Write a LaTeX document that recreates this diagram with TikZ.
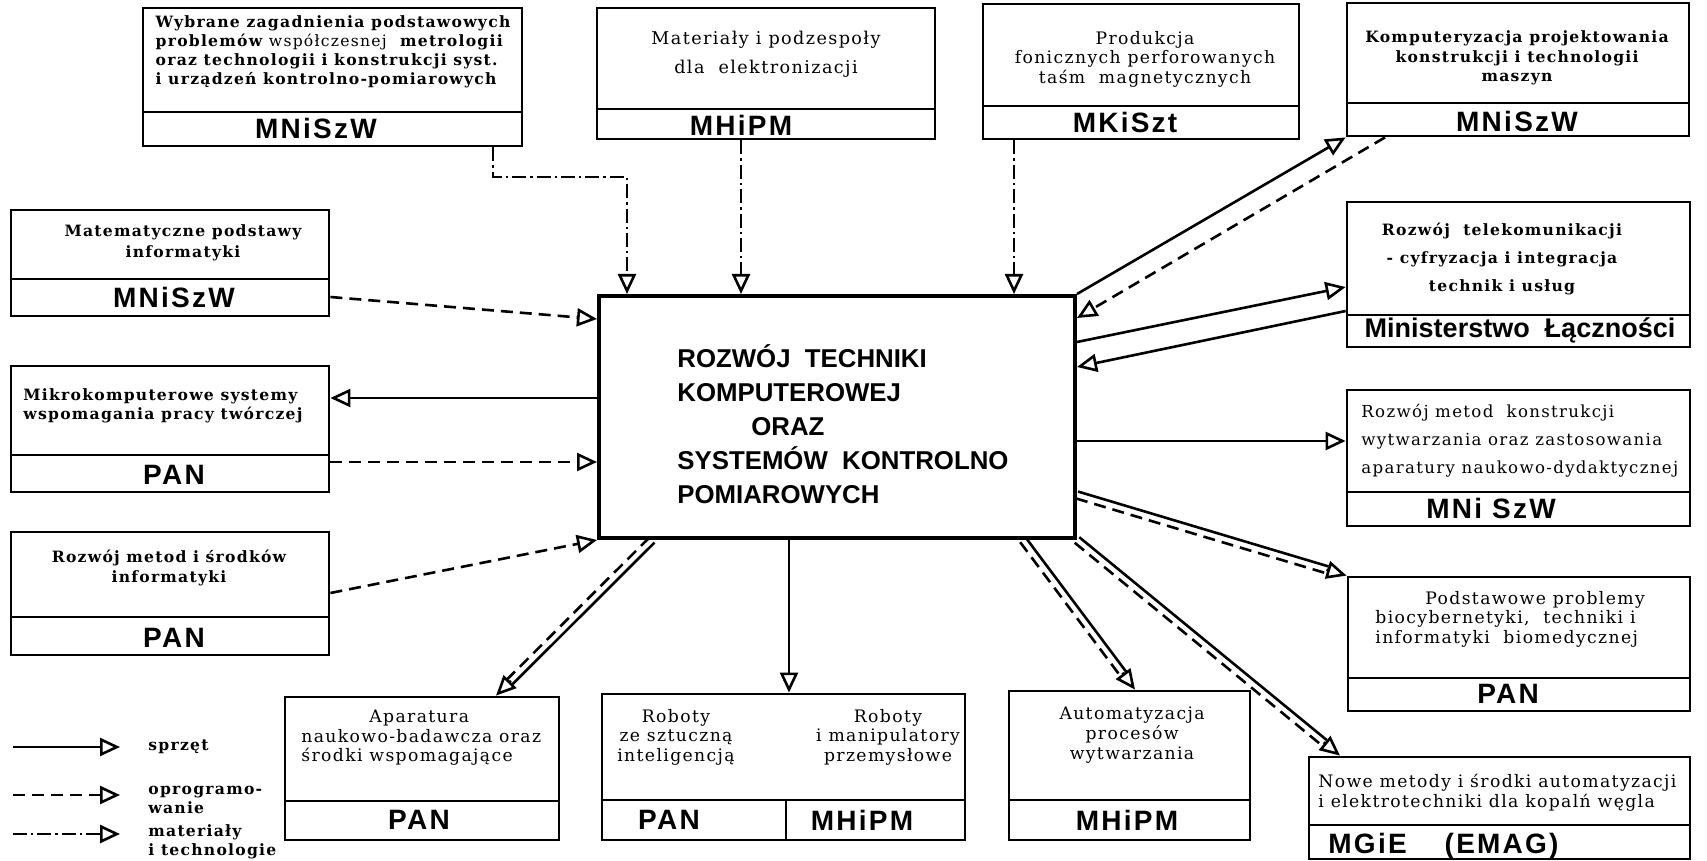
\documentclass[tikz,border=0pt]{standalone}
\usepackage{fontspec}
\setmainfont{DejaVu Serif}
\newfontfamily\bodyfont[LetterSpace=8]{DejaVu Serif}
\newfontfamily\labfont[LetterSpace=8]{Liberation Sans}
\newfontfamily\headfont{Liberation Sans}
\usetikzlibrary{arrows.meta,calc,fit}
\newcommand\dblarrow[2]{%
  \draw[conn, shorten >=10pt] ($(#1)!1.8pt!90:(#2)$) -- ($(#2)!1.8pt!-90:(#1)$);
  \draw[conn, dsh, shorten >=10pt] ($(#1)!1.8pt!-90:(#2)$) -- ($(#2)!1.8pt!90:(#1)$);
  \draw[conn, arr] ($(#2)!10.5pt!(#1)$) -- (#2);
}
\begin{document}
\begin{tikzpicture}[x=0.5pt,y=-0.5pt,
  box/.style={draw, line width=1.4pt, inner sep=0pt},
  mainbox/.style={draw, line width=2pt, inner sep=0pt},
  divl/.style={line width=1.4pt},
  conn/.style={line width=1.3pt},
  arr/.style={-{Triangle[open,length=10pt,width=9pt]}},
  dsh/.style={dash pattern=on 6pt off 3.5pt},
  mt/.style={dash pattern=on 7pt off 2pt on 1.2pt off 2pt},
  txt/.style={font=\bodyfont\fontsize{8.6}{9.8}\selectfont, align=center, inner sep=0pt},
  txtw/.style={font=\bodyfont\fontsize{8.3}{14}\selectfont, align=center, inner sep=0pt},
  tb/.style={font=\bodyfont\bfseries\fontsize{7.8}{9.6}\selectfont, align=center, inner sep=0pt},
  tbw/.style={font=\bodyfont\bfseries\fontsize{7.8}{14}\selectfont, align=center, inner sep=0pt},
  lab/.style={font=\labfont\bfseries\fontsize{14}{16}\selectfont, inner sep=0pt},
  headtxt/.style={font=\headfont\bfseries\fontsize{12.9}{17}\selectfont, align=left, inner sep=0pt}
]
\fill[white] (0,0) rectangle (1707,861);
\useasboundingbox (0,0) rectangle (1707,861);

% main box
\node[mainbox, fit={(599,296)(1075,538)}] (main) {};
\node[headtxt, anchor=west] (mt) at (677,424) {ROZWÓJ \ TECHNIKI\\KOMPUTEROWEJ\\\hspace*{37pt}ORAZ\\SYSTEMÓW \ KONTROLNO\\POMIAROWYCH};

% b1
\node[box, fit={(143,8)(522,146)}] (b1) {};
\draw[divl] (b1.west |- 0,112) -- (b1.east |- 0,112);
\node[tb, align=left] (t1) at (333,52) {Wybrane zagadnienia podstawowych\\problemów {\mdseries współczesnej} \ metrologii\\oraz technologii i konstrukcji syst.\\i urządzeń kontrolno-pomiarowych};
\node[lab] (l1) at (316,128) {MNiSzW};

% b2
\node[box, fit={(597,8)(935,139)}] (b2) {};
\draw[divl] (b2.west |- 0,109) -- (b2.east |- 0,109);
\node[txt, font=\bodyfont\fontsize{8.8}{14.5}\selectfont] (t2) at (766,54) {Materiały i podzespoły\\dla \ elektronizacji};
\node[lab] (l2) at (741,125) {MHiPM};

% b3
\node[box, fit={(983,4)(1299,139)}] (b3) {};
\draw[divl] (b3.west |- 0,106) -- (b3.east |- 0,106);
\node[txt] (t3) at (1145,59) {Produkcja\\fonicznych perforowanych\\taśm \ magnetycznych};
\node[lab] (l3) at (1125,122) {MKiSzt};

% b4
\node[box, fit={(1347,3)(1689,136)}] (b4) {};
\draw[divl] (b4.west |- 0,103) -- (b4.east |- 0,103);
\node[tb] (t4) at (1517,58) {Komputeryzacja projektowania\\konstrukcji i technologii\\maszyn};
\node[lab] (l4) at (1517,121) {MNiSzW};

% b5
\node[box, fit={(11,210)(329,316)}] (b5) {};
\draw[divl] (b5.west |- 0,279) -- (b5.east |- 0,279);
\node[tb, font=\bodyfont\bfseries\fontsize{7.8}{10.5}\selectfont] (t5) at (183,243) {Matematyczne podstawy\\informatyki};
\node[lab] (l5) at (174,297) {MNiSzW};

% b6
\node[box, fit={(11,366)(329,492)}] (b6) {};
\draw[divl] (b6.west |- 0,455) -- (b6.east |- 0,455);
\node[tb, align=left] (t6) at (163,406) {Mikrokomputerowe systemy\\wspomagania pracy twórczej};
\node[lab] (l6) at (174,475) {PAN};

% b7
\node[box, fit={(11,532)(329,655)}] (b7) {};
\draw[divl] (b7.west |- 0,617) -- (b7.east |- 0,617);
\node[tb, font=\bodyfont\bfseries\fontsize{7.8}{10}\selectfont] (t7) at (169,568) {Rozwój metod i środków\\informatyki};
\node[lab] (l7) at (174,638) {PAN};

% b8
\node[box, fit={(1347,202)(1690,347)}] (b8) {};
\draw[divl] (b8.west |- 0,315) -- (b8.east |- 0,315);
\node[tbw] (t8) at (1502,259) {Rozwój \ telekomunikacji\\- cyfryzacja i integracja\\technik i usług};
\node[lab, font=\headfont\bfseries\fontsize{13.5}{16}\selectfont] (l8) at (1520,330) {Ministerstwo \ Łączności};

% b9
\node[box, fit={(1347,390)(1690,526)}] (b9) {};
\draw[divl] (b9.west |- 0,492) -- (b9.east |- 0,492);
\node[txtw, align=left, anchor=west] (t9) at (1361,441) {Rozwój metod \ konstrukcji\\wytwarzania oraz zastosowania\\aparatury naukowo-dydaktycznej};
\node[lab] (l9) at (1491,508) {MNi SzW};

% b10
\node[box, fit={(1348,577)(1690,711)}] (b10) {};
\draw[divl] (b10.west |- 0,678) -- (b10.east |- 0,678);
\node[txt, align=left, anchor=west] (t10) at (1375,619) {\hspace*{25pt}Podstawowe problemy\\biocybernetyki, \ techniki i\\informatyki \ biomedycznej};
\node[lab] (l10) at (1508,694) {PAN};

% b11
\node[box, fit={(1309,757)(1690,859)}] (b11) {};
\draw[divl] (b11.west |- 0,825) -- (b11.east |- 0,825);
\node[txt, align=left, anchor=west] (t11) at (1318,793) {Nowe metody i środki automatyzacji\\i elektrotechniki dla kopalń węgla};
\node[lab, anchor=west] (l11) at (1328,846) {MGiE \quad (EMAG)};

% b12
\node[box, fit={(285,697)(559,840)}] (b12) {};
\draw[divl] (b12.west |- 0,801) -- (b12.east |- 0,801);
\node[txt, align=left, anchor=west] (t12) at (301,738) {\hspace*{34pt}Aparatura\\naukowo-badawcza oraz\\środki wspomagające};
\node[lab] (l12) at (419,820) {PAN};

% b13
\node[box, fit={(602,694)(965,840)}] (b13) {};
\draw[divl] (b13.west |- 0,800) -- (b13.east |- 0,800);
\draw[divl] (b13.south -| 786,0) -- (786,800);
\node[txt] (t13a) at (676,737) {Roboty\\ze sztuczną\\inteligencją};
\node[txt] (t13b) at (888,737) {Roboty\\i manipulatory\\przemysłowe};
\node[lab] (l13a) at (669,820) {PAN};
\node[lab] (l13b) at (862,820) {MHiPM};

% b14
\node[box, fit={(1009,691)(1250,840)}] (b14) {};
\draw[divl] (b14.west |- 0,800) -- (b14.east |- 0,800);
\node[txt] (t14) at (1132,735) {Automatyzacja\\procesów\\wytwarzania};
\node[lab] (l14) at (1127,820) {MHiPM};

% connectors
\coordinate (k1) at (b1.south -| 493,0);
\draw[conn,mt,arr] (k1) -- (493,177) -- (627,177) -- (main.north -| 627,0);
\draw[conn,mt,arr] (b2.south -| 741,0) -- (main.north -| 741,0);
\draw[conn,mt,arr] (b3.south -| 1014,0) -- (main.north -| 1014,0);
\draw[conn,arr] (main.north east) -- (b4.south west);
\draw[conn,dsh,arr] (b4.south -| 1385,0) -- (main.east |- 0,318);
\draw[conn,arr] (main.east |- 0,342) -- (b8.west |- 0,287);
\draw[conn,arr] (b8.west |- 0,311) -- (main.east |- 0,367);
\draw[conn,arr] (main.east |- 0,441) -- (b9.west |- 0,441);
\coordinate (d1a) at (main.east |- 0,495);
\coordinate (d1b) at (b10.north west);
\dblarrow{d1a}{d1b}
\coordinate (d2a) at (main.south east);
\coordinate (d2b) at (b11.north -| 1340,0);
\dblarrow{d2a}{d2b}
\coordinate (d3a) at (main.south -| 1023,0);
\coordinate (d3b) at (b14.north -| 1135,0);
\dblarrow{d3a}{d3b}
\draw[conn,arr] (main.south -| 789,0) -- (b13.north -| 789,0);
\coordinate (d4a) at (main.south -| 652,0);
\coordinate (d4b) at (b12.north -| 496,0);
\dblarrow{d4a}{d4b}
\draw[conn,dsh,arr] (b7.east |- 0,593) -- (main.south west);
\draw[conn,arr] (main.west |- 0,398) -- (b6.east |- 0,398);
\draw[conn,dsh,arr] (b6.east |- 0,462) -- (main.west |- 0,462);
\draw[conn,dsh,arr] (b5.east |- 0,297) -- (main.west |- 0,319);

% legend
\coordinate (g1a) at (13,747); \coordinate (g1b) at (120,747);
\coordinate (g2a) at (13,795); \coordinate (g2b) at (120,795);
\coordinate (g3a) at (13,834); \coordinate (g3b) at (120,834);
\draw[conn,arr] (g1a) -- (g1b);
\draw[conn,dsh,arr] (g2a) -- (g2b);
\draw[conn,mt,arr] (g3a) -- (g3b);
\node[tb, anchor=west] (g1t) at (148,747) {sprzęt};
\node[tb, align=left, anchor=west] (g2t) at (148,800) {oprogramo-\\wanie};
\node[tb, align=left, anchor=west] (g3t) at (148,842) {materiały\\i technologie};
\end{tikzpicture}
\end{document}
